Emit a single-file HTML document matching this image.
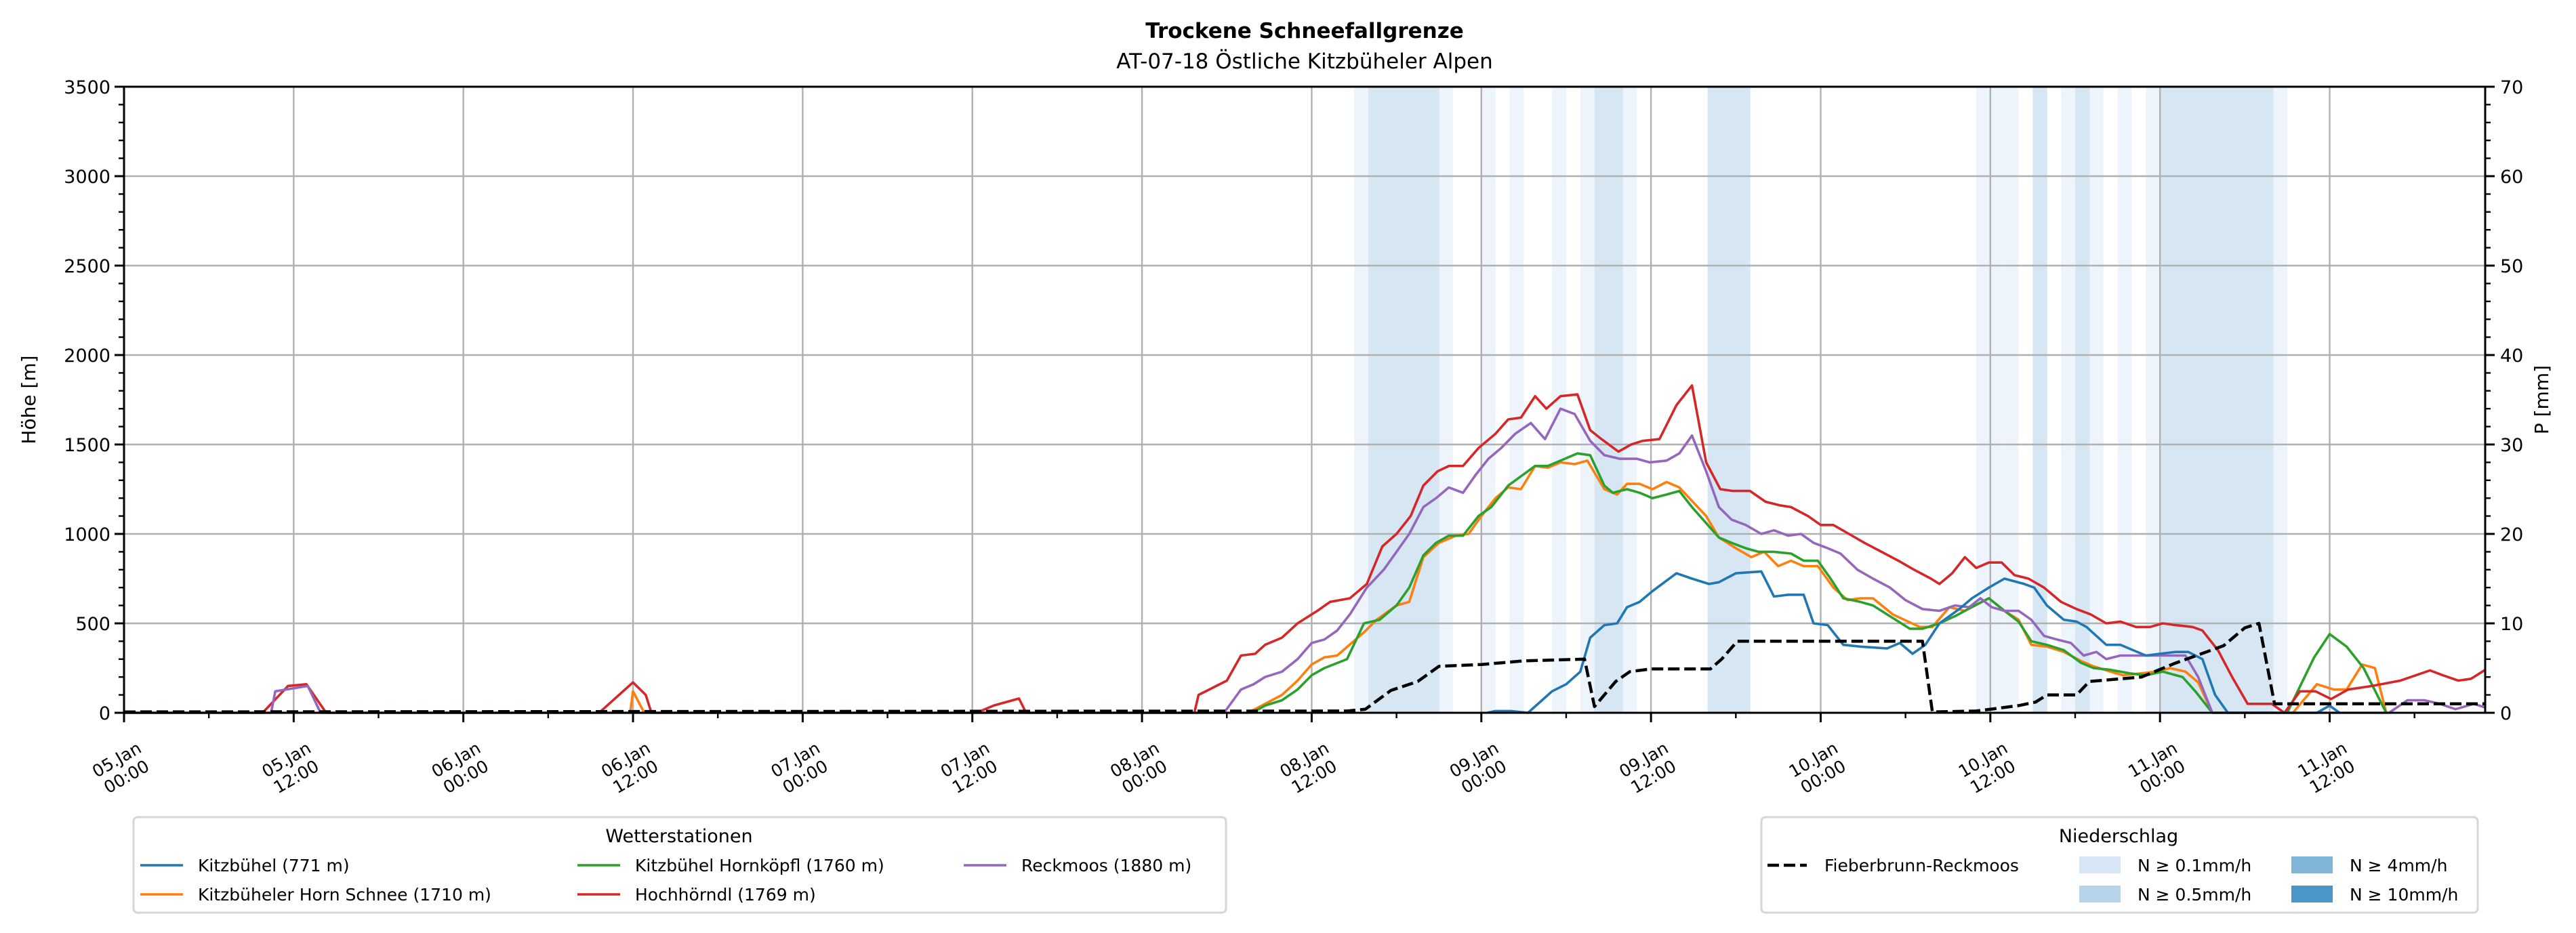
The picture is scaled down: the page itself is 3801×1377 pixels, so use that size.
<!DOCTYPE html>
<html><head><meta charset="utf-8"><style>
html,body{margin:0;padding:0;background:#fff;}
svg{display:block;font-family:"DejaVu Sans","Liberation Sans",sans-serif;}
</style></head><body>
<svg id="chart" width="3801" height="1377" viewBox="0 0 3801 1377" xmlns="http://www.w3.org/2000/svg">
<g id="bands"></g>
<g id="grid"></g>
<g id="series"></g>
<g id="axes"></g>
<text x="1925" y="56" text-anchor="middle" font-size="31" font-weight="bold">Trockene Schneefallgrenze</text>
<text x="1925" y="101" text-anchor="middle" font-size="31">AT-07-18 Östliche Kitzbüheler Alpen</text>
<text transform="translate(52,590) rotate(-90)" text-anchor="middle" font-size="28">Höhe [m]</text>
<text transform="translate(3760,590) rotate(-90)" text-anchor="middle" font-size="28">P [mm]</text>
<g id="legend1">
<rect x="197" y="1206" width="1612" height="141" rx="6" fill="#fff" stroke="#d6d6d6" stroke-width="3"/>
<text x="1002" y="1243" text-anchor="middle" font-size="27">Wetterstationen</text>
</g>
<g id="legend2">
<rect x="2599" y="1206" width="1057" height="141" rx="6" fill="#fff" stroke="#d6d6d6" stroke-width="3"/>
<text x="3126" y="1243" text-anchor="middle" font-size="27">Niederschlag</text>
</g>
</svg>
<script>
// ---- data (hours since 05.Jan 00:00, values in m / mm) ----
const kitzHours=[96.4,97,98.1,99.3,101,102,103,103.7,104.7,105.6,106.3,107.2,108.1,109.8,110.9,112.1,112.8,114,115.8,116.7,117.7,118.8,119.5,120.5,121.6,122.8,124.7,125.6,126.5,127.4,128.4,129.8,130.7,131.9,133,134.4,135.1,136,137.2,138.1,138.8,140.2,141.2,142.1,143,144,145.1,146,147,147.9,148.8,155.1,156,156.7];
const kitzVals=[0,10,10,0,120,160,230,420,490,500,590,620,680,780,750,720,730,780,790,650,660,660,500,490,380,370,360,390,330,380,500,580,640,700,750,720,700,600,520,510,480,380,380,350,320,330,340,340,300,100,0,0,40,0];
const hornHours=[0,35.8,36,36.8,79.5,80.7,81.9,83,84,84.9,85.8,87.7,88.6,90,90.9,91.9,93,94.2,95.1,96,97,97.9,98.8,99.8,100.7,101.6,102.6,103.5,104.7,105.6,106.3,107.2,108.1,109.1,110,111.9,112.8,114,115.1,116,117,117.9,118.8,119.8,120.9,121.9,122.8,123.7,125.1,127,127.9,129.1,130.2,131.9,133,134,134.9,136,137.2,138.4,139.3,140.5,141.4,142.6,143.7,144.7,145.8,146.7,147.7,153.4,155.1,156.3,157.2,158.3,159.2,160];
const hornVals=[0,0,120,0,0,50,100,180,270,310,320,450,520,600,620,870,950,990,1000,1100,1200,1260,1250,1380,1370,1400,1390,1410,1250,1220,1280,1280,1250,1290,1260,1100,980,920,870,900,820,850,820,820,700,630,640,640,550,480,480,590,570,640,570,520,380,370,340,290,260,230,210,220,230,250,230,170,0,0,160,130,130,270,250,0];
const hkHours=[79.8,80.7,81.9,83,84,84.9,86.5,87.7,88.8,90,90.9,91.9,92.8,93.7,94.7,95.8,96.7,97.9,99.8,100.7,101.9,102.8,103.7,104.7,105.3,106.3,107.2,108.1,109.1,110,110.9,112.8,113.7,114.7,115.6,116.7,117.9,118.8,119.8,120.7,121.6,122.8,123.7,125.1,126.3,127.2,128.4,129.5,130.9,131.9,133,134,134.9,136,137.2,138.4,139.3,140.5,141.9,143,144.2,145.6,146.5,147.7,153,154.9,156,157.2,158.4,160];
const hkVals=[0,40,70,130,210,250,300,500,520,600,700,880,950,990,990,1100,1150,1270,1380,1380,1420,1450,1440,1270,1230,1250,1230,1200,1220,1240,1150,980,950,920,900,900,890,850,850,750,640,620,600,530,470,470,500,540,600,640,570,510,400,380,350,280,250,240,220,210,230,200,120,0,0,310,440,370,250,0];
const hochHours=[0,9.8,11.6,12.9,14.3,33.6,36,36.9,37.3,60.3,61.5,63.3,63.8,75.7,76,78,79,80,80.7,81.9,83,84.4,85.3,86.7,87.9,89,90,91,91.9,92.9,93.7,94.7,95.8,97,97.9,98.8,99.8,100.6,101.6,102.8,103.7,104.5,105.7,106.6,107.4,108.6,109.8,110.9,111.9,112.9,113.8,115,116.1,117.1,117.9,119.1,120,120.9,122,123.1,124.3,125.5,126.6,127.8,128.4,129.3,130.2,131,131.9,132.8,133.7,134.7,135.8,137,138.1,139.1,140.2,141.2,142.3,143.3,144.2,145.1,146.3,147,148.1,149.1,150.2,151.9,152.8,153.9,155,156.1,157.3,159,161,163.1,164,165.1,166,167];
const hochVals=[0,0,150,160,0,0,170,100,0,0,40,80,0,0,100,180,320,330,380,420,500,570,620,640,720,930,1000,1100,1270,1350,1380,1380,1480,1560,1640,1650,1770,1700,1770,1780,1580,1530,1460,1500,1520,1530,1720,1830,1400,1250,1240,1240,1180,1160,1150,1100,1050,1050,1000,950,900,850,800,750,720,780,870,810,840,840,770,750,700,620,580,550,500,510,480,480,500,490,480,460,350,200,50,50,0,120,120,77,130,150,180,237,210,180,190,240];
const reckHours=[0,10.4,10.7,13,13.9,77.8,79,79.9,80.7,81.9,83,84,84.9,85.8,86.7,87.9,89.1,90,90.9,91.9,92.8,93.7,94.7,95.6,96.5,97.4,98.4,99.5,100.5,101.6,102.6,103.7,104.7,105.8,107,107.9,109.1,110,110.9,111.9,112.8,113.7,114.7,115.8,116.7,117.7,118.6,119.5,120.5,121.4,122.6,123.7,124.9,126,127.2,128.4,129.5,130.5,131.3,132.1,133,134,134.9,135.8,136.7,137.7,138.6,139.5,140.2,141.2,142.3,143.5,144.7,145.8,146.7,147.7,160.2,161.5,162.7,163.8,164.9,166.2,167];
const reckVals=[0,0,120,150,0,0,130,160,200,230,300,390,410,460,550,700,800,900,1000,1150,1200,1260,1230,1330,1420,1480,1560,1620,1530,1700,1670,1520,1440,1420,1420,1400,1410,1450,1550,1350,1150,1080,1050,1000,1020,990,1000,950,920,890,800,750,700,630,580,570,600,590,640,590,570,570,520,430,410,390,320,340,300,320,320,320,320,320,200,0,0,70,70,50,20,50,30];
const fieberHours=[0,86.5,87.8,89.6,91.5,93,96,99,103.3,104,105.5,106.5,108,112.2,113,114.1,127.2,127.9,131,134,135.2,136,138.1,139,142.7,145,148.5,150,151,152.1,167];
const fieberMm=[0.1,0.2,0.4,2.5,3.5,5.2,5.4,5.8,6,0.7,3.5,4.6,4.9,4.9,6,8,8,0.1,0.2,0.8,1.2,2,2,3.5,4,5.5,7.5,9.5,10,1,1];
const precipLightHours=[87,93,96,98,101,103,106,131,132,133,137,139,141,143,152];
const precipMedHours=[88,89,90,91,92,104,105,112,113,114,135,138,144,145,146,147,148,149,150,151];
const yTicks=[0,500,1000,1500,2000,2500,3000,3500];
const y2Ticks=[0,10,20,30,40,50,60,70];
const xTickDays=["05.Jan","05.Jan","06.Jan","06.Jan","07.Jan","07.Jan","08.Jan","08.Jan","09.Jan","09.Jan","10.Jan","10.Jan","11.Jan","11.Jan"];
const xTickTimes=["00:00","12:00","00:00","12:00","00:00","12:00","00:00","12:00","00:00","12:00","00:00","12:00","00:00","12:00"];
const stationNames=["Kitzbühel (771 m)","Kitzbüheler Horn Schnee (1710 m)","Kitzbühel Hornköpfl (1760 m)","Hochhörndl (1769 m)","Reckmoos (1880 m)"];

// ---- scales ----
const L=183,R=3667,T=128,B=1052,HMAX=167;
function X(h){return L+h*(R-L)/HMAX;}
function Y(v){return B-v*(B-T)/3500;}
function Y2(p){return B-p*(B-T)/70;}
const NS="http://www.w3.org/2000/svg";
function mk(tag,parent,attrs){const e=document.createElementNS(NS,tag);for(const k in attrs)e.setAttribute(k,attrs[k]);parent.appendChild(e);return e;}
const bands=document.getElementById('bands'),grid=document.getElementById('grid'),series=document.getElementById('series'),axes=document.getElementById('axes');

precipLightHours.forEach(h=>{const r=mk('rect',bands,{x:X(h),y:T,width:X(h+1)-X(h),height:B-T,fill:'#eef4fb'});

});
precipMedHours.forEach(h=>{const r=mk('rect',bands,{x:X(h),y:T,width:X(h+1)-X(h)+0.5,height:B-T,fill:'#d6e6f3'});

});

yTicks.forEach(v=>{const l=mk('line',grid,{x1:L,x2:R,y1:Y(v),y2:Y(v),stroke:'#b0b0b0','stroke-width':2.4});

});
xTickDays.forEach((d,i)=>{const x=X(i*12);const l=mk('line',grid,{x1:x,x2:x,y1:T,y2:B,stroke:'#b0b0b0','stroke-width':2.4});

});

function line(hs,vs,sc,color,name,extra){let d='';hs.forEach((h,i)=>{d+=(i?'L':'M')+X(h).toFixed(1)+','+sc(vs[i]).toFixed(1);});
const p=mk('path',series,Object.assign({d:d,fill:'none',stroke:color,'stroke-width':3.6,'stroke-linejoin':'round'},extra||{}));

}
line(hornHours,hornVals,Y,'#ff7f0e','line-kitzbueheler-horn');
line(hkHours,hkVals,Y,'#2ca02c','line-hornkoepfl');
line(hochHours,hochVals,Y,'#d62728','line-hochhoerndl');
line(reckHours,reckVals,Y,'#9467bd','line-reckmoos');
line(kitzHours,kitzVals,Y,'#1f77b4','line-kitzbuehel');
line(fieberHours,fieberMm,Y2,'#000','line-fieberbrunn-precip',{'stroke-width':4.5,'stroke-dasharray':'17,7'});

// axes frame
mk('rect',axes,{x:L,y:T,width:R-L,height:B-T,fill:'none',stroke:'#000','stroke-width':3});
for(let v=0;v<=3500;v+=100){const maj=v%500===0;mk('line',axes,{x1:L-(maj?14:8),x2:L,y1:Y(v),y2:Y(v),stroke:'#000','stroke-width':maj?3:2.4});}
for(let p=0;p<=70;p+=2){const maj=p%10===0;mk('line',axes,{x1:R,x2:R+(maj?14:8),y1:Y2(p),y2:Y2(p),stroke:'#000','stroke-width':maj?3:2.4});}
for(let h=0;h<=HMAX;h+=6){const maj=h%12===0;mk('line',axes,{x1:X(h),x2:X(h),y1:B,y2:B+(maj?14:8),stroke:'#000','stroke-width':maj?3:2.4});}
yTicks.forEach(v=>{const t=mk('text',axes,{x:L-20,y:Y(v)+10,'text-anchor':'end','font-size':27});t.textContent=v;

});
y2Ticks.forEach(p=>{const t=mk('text',axes,{x:R+22,y:Y2(p)+10,'font-size':27});t.textContent=p;

});
xTickDays.forEach((d,i)=>{const x=X(i*12);const g=mk('g',axes,{transform:'translate('+(x-4)+',1133) rotate(-30)'});


const t1=mk('text',g,{x:0,y:-5,'text-anchor':'middle','font-size':25});t1.textContent=d;
const t2=mk('text',g,{x:0,y:24,'text-anchor':'middle','font-size':25});t2.textContent=xTickTimes[i];});

// legends
const lg1=document.getElementById('legend1');
const lgColors=['#1f77b4','#ff7f0e','#2ca02c','#d62728','#9467bd'];
const lgPos=[[207,1277],[207,1320],[852,1277],[852,1320],[1422,1277]];
stationNames.forEach((n,i)=>{const [x,y]=lgPos[i];const g=mk('g',lg1,{});


mk('line',g,{x1:x,x2:x+63,y1:y,y2:y,stroke:lgColors[i],'stroke-width':3.6});
const t=mk('text',g,{x:x+85,y:y+9,'font-size':25});t.textContent=n;});
const lg2=document.getElementById('legend2');
const g0=mk('g',lg2,{});


mk('line',g0,{x1:2608,x2:2666,y1:1277,y2:1277,stroke:'#000','stroke-width':4.5,'stroke-dasharray':'17,7'});
const tf=mk('text',g0,{x:2692,y:1286,'font-size':25});tf.textContent='Fieberbrunn-Reckmoos';
const patchLabels=['N ≥ 0.1mm/h','N ≥ 0.5mm/h','N ≥ 4mm/h','N ≥ 10mm/h'];
const patchColors=['#d6e6f4','#b8d4ea','#7fb6d8','#4a96c8'];
const patchPos=[[3068,1264],[3068,1307],[3381,1264],[3381,1307]];
patchLabels.forEach((n,i)=>{const [x,y]=patchPos[i];const g=mk('g',lg2,{});


mk('rect',g,{x:x,y:y,width:61,height:25,fill:patchColors[i]});
const t=mk('text',g,{x:x+86,y:y+22,'font-size':25});t.textContent=n;});
</script>
</body></html>
